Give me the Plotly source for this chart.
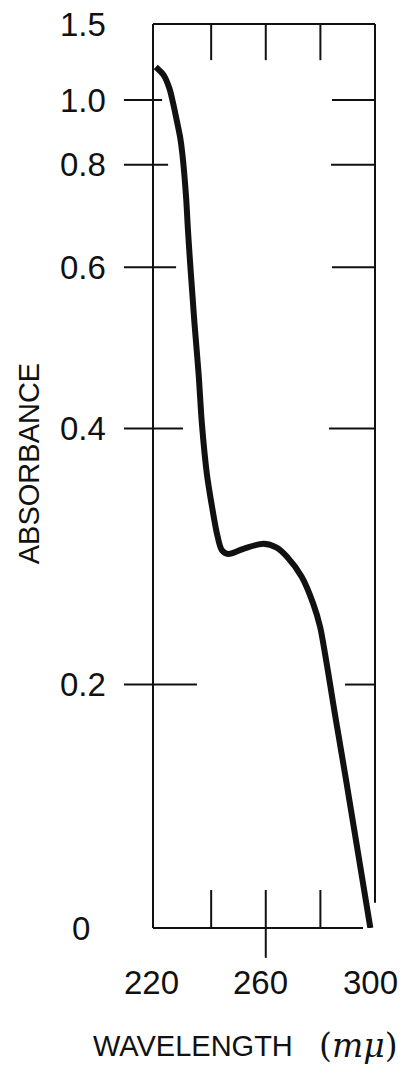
import numpy as np
import plotly.graph_objects as go

# ---- data ----
WAVELENGTH_NM = [219.7, 222.6, 224.7, 226.2, 227.5, 228.7, 229.5, 230.8, 231.5, 232.3,
                 233.2, 233.9, 235.4, 236.6, 238.4, 240.3, 242.1, 243.9, 246.3, 251.8,
                 259.1, 264.0, 267.7, 273.2, 277.4, 279.9, 281.7, 283.5, 285.3, 289.6, 298.3]
ABSORBANCE = [1.217, 1.164, 1.077, 0.985, 0.933, 0.882, 0.830, 0.738, 0.673, 0.608,
              0.563, 0.530, 0.468, 0.406, 0.365, 0.339, 0.318, 0.305, 0.302, 0.306,
              0.310, 0.307, 0.300, 0.284, 0.263, 0.245, 0.224, 0.201, 0.176, 0.119, 0.0]

Y_TICK_VALUES = [0, 0.2, 0.4, 0.6, 0.8, 1.0, 1.5]
Y_TICK_LABELS = ["0", "0.2", "0.4", "0.6", "0.8", "1.0", "1.5"]
X_TICK_VALUES = [220, 240, 260, 280, 300]
X_LABEL_VALUES = [220, 260, 300]
X_LABEL_TEXT = ["220", "260", "300"]

# ---- the printed (non-linear) absorbance scale of the original chart paper ----
SCALE_ABS = [0, 0.2, 0.4, 0.6, 0.8, 1.0, 1.5]
SCALE_FRAC = [0, 0.2693, 0.5526, 0.7308, 0.8443, 0.9159, 1.0]


def yscale(a):
    return np.interp(np.asarray(a, dtype=float), SCALE_ABS, SCALE_FRAC)


FONT = "Liberation Sans Narrow, Liberation Sans, Arial, sans-serif"
INK = "#111111"

fig = go.Figure()
fig.add_trace(go.Scatter(
    x=WAVELENGTH_NM, y=yscale(ABSORBANCE), mode="lines",
    line=dict(color=INK, width=6, shape="spline", smoothing=0.8),
    hoverinfo="skip", showlegend=False))

shapes = []
lw = 2
# frame
shapes.append(dict(type="line", xref="paper", yref="paper", x0=0, x1=0, y0=0, y1=1, line=dict(color=INK, width=lw)))
shapes.append(dict(type="line", xref="paper", yref="paper", x0=0, x1=1, y0=1, y1=1, line=dict(color=INK, width=lw)))
shapes.append(dict(type="line", xref="paper", yref="paper", x0=1, x1=1, y0=0.028, y1=1, line=dict(color=INK, width=lw)))
shapes.append(dict(type="line", xref="paper", yref="paper", x0=0, x1=0.946, y0=0, y1=0, line=dict(color=INK, width=lw)))

# y ticks (left side crossing the frame, right side inside)
LEFT_IN = {0.2: 0.198, 0.4: 0.135, 0.6: 0.104, 0.8: 0.068, 1.0: 0.041}
RIGHT_IN = {0.2: 0.865, 0.4: 0.793, 0.6: 0.806, 0.8: 0.802, 1.0: 0.806}
for v in Y_TICK_VALUES:
    if v in LEFT_IN:
        yy = float(yscale(v))
        shapes.append(dict(type="line", xref="paper", yref="y", x0=-0.131, x1=LEFT_IN[v], y0=yy, y1=yy,
                           line=dict(color=INK, width=lw)))
        shapes.append(dict(type="line", xref="paper", yref="y", x0=RIGHT_IN[v], x1=1, y0=yy, y1=yy,
                           line=dict(color=INK, width=lw)))

# x ticks (inside top and bottom; 260 crosses the bottom line)
for v in X_TICK_VALUES[1:-1]:
    shapes.append(dict(type="line", xref="x", yref="paper", x0=v, x1=v, y0=0.960, y1=1,
                       line=dict(color=INK, width=lw)))
    shapes.append(dict(type="line", xref="x", yref="paper", x0=v, x1=v,
                       y0=(-0.033 if v == 260 else 0), y1=0.042,
                       line=dict(color=INK, width=lw)))

annotations = []
for v, t in zip(Y_TICK_VALUES, Y_TICK_LABELS):
    if t == "0":
        annotations.append(dict(x=-0.324, xref="paper", y=float(yscale(v)), yref="y", text=t,
                                showarrow=False, xanchor="center", yanchor="middle",
                                font=dict(family=FONT, size=33, color=INK)))
    else:
        annotations.append(dict(x=-0.203, xref="paper", y=float(yscale(v)), yref="y", text=t,
                                showarrow=False, xanchor="right", yanchor="middle",
                                font=dict(family=FONT, size=33, color=INK)))
for v, t in zip(X_LABEL_VALUES, X_LABEL_TEXT):
    annotations.append(dict(x=v, xref="x", y=-0.0608, yref="paper", text=t, xshift=-5,
                            showarrow=False, xanchor="center", yanchor="middle",
                            font=dict(family=FONT, size=33, color=INK)))

annotations.append(dict(x=-0.559, xref="paper", y=0.514, yref="paper", text="ABSORBANCE",
                        textangle=-90, showarrow=False, xanchor="center", yanchor="middle",
                        font=dict(family=FONT, size=29, color=INK)))
annotations.append(dict(x=0.18, xref="paper", y=-0.1305, yref="paper", text="WAVELENGTH",
                        showarrow=False, xanchor="center", yanchor="middle",
                        font=dict(family=FONT, size=29, color=INK)))
annotations.append(dict(x=0.925, xref="paper", y=-0.1305, yref="paper", text="(<i>mμ</i>)",
                        showarrow=False, xanchor="center", yanchor="middle",
                        font=dict(family="DejaVu Serif, serif", size=33, color=INK)))

fig.update_layout(
    width=408, height=1065,
    margin=dict(l=153, r=33, t=24, b=137),
    paper_bgcolor="white", plot_bgcolor="white",
    xaxis=dict(range=[218.7, 300], visible=False, fixedrange=True),
    yaxis=dict(range=[0, 1], visible=False, fixedrange=True),
    shapes=shapes, annotations=annotations, showlegend=False,
)

fig.write_html("out.html", config={"displayModeBar": False},
               post_script="document.body.style.margin='0';document.body.style.overflow='hidden';")
